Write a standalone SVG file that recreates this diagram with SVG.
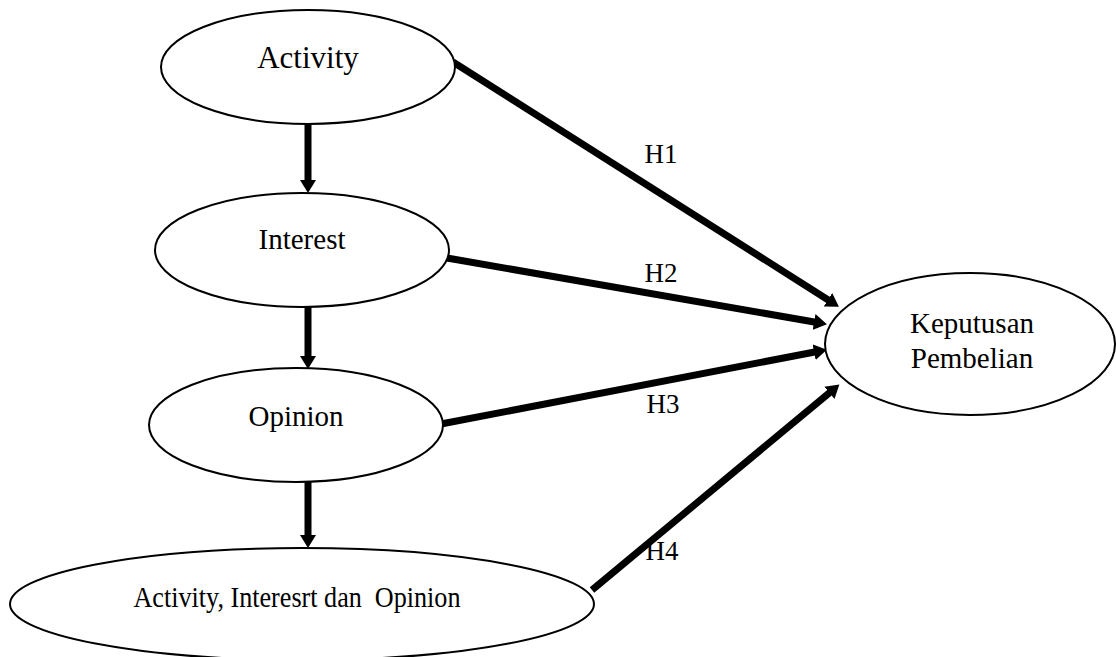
<svg xmlns="http://www.w3.org/2000/svg" width="1116" height="657" viewBox="0 0 1116 657">
<style>
.node ellipse{fill:#fff;stroke:#000;stroke-width:2}
text{font-family:"Liberation Serif","Times New Roman",serif;fill:#000;text-anchor:middle}
.lbl{font-size:29px}
.h{font-size:27px}
.edge{stroke:#000;stroke-width:7;fill:none;marker-end:url(#ah)}
</style>
<defs>
<marker id="ah" markerUnits="userSpaceOnUse" markerWidth="14" markerHeight="16" refX="6" refY="8" orient="auto">
<path d="M0,0 L13,8 L0,16 Z" fill="#000"/>
</marker>
</defs>
<rect width="1116" height="657" fill="#fff"/>
<g id="connectors">
<line class="edge" x1="308" y1="124" x2="308" y2="186"/>
<line class="edge" x1="308" y1="307" x2="308" y2="362"/>
<line class="edge" x1="308" y1="482" x2="308" y2="541"/>
<line class="edge" x1="453" y1="62" x2="833" y2="303"/>
<line class="edge" x1="447" y1="258" x2="820" y2="323"/>
<line class="edge" x1="441" y1="424" x2="820" y2="351"/>
<line class="edge" x1="592" y1="590" x2="834" y2="389"/>
</g>
<g id="activity" class="node"><ellipse cx="308" cy="67" rx="147" ry="57"/><text class="lbl" x="308" y="68" style="font-size:31px">Activity</text></g>
<g id="interest" class="node"><ellipse cx="302" cy="250" rx="147" ry="57"/><text class="lbl" x="302" y="249">Interest</text></g>
<g id="opinion" class="node"><ellipse cx="296" cy="425" rx="147" ry="57"/><text class="lbl" x="296" y="426">Opinion</text></g>
<g id="aio" class="node"><ellipse cx="302" cy="604" rx="292" ry="56"/><text class="lbl" x="297" y="607" xml:space="preserve" style="white-space:pre" textLength="327" lengthAdjust="spacingAndGlyphs">Activity, Interesrt dan  Opinion</text></g>
<g id="keputusan" class="node"><ellipse cx="970" cy="344" rx="145" ry="71"/><text class="lbl" x="972" y="333">Keputusan</text><text class="lbl" x="972" y="368">Pembelian</text></g>
<g id="labels">
<text class="h" x="661" y="163">H1</text>
<text class="h" x="661" y="282">H2</text>
<text class="h" x="663" y="413">H3</text>
<text class="h" x="662" y="560">H4</text>
</g>
</svg>
